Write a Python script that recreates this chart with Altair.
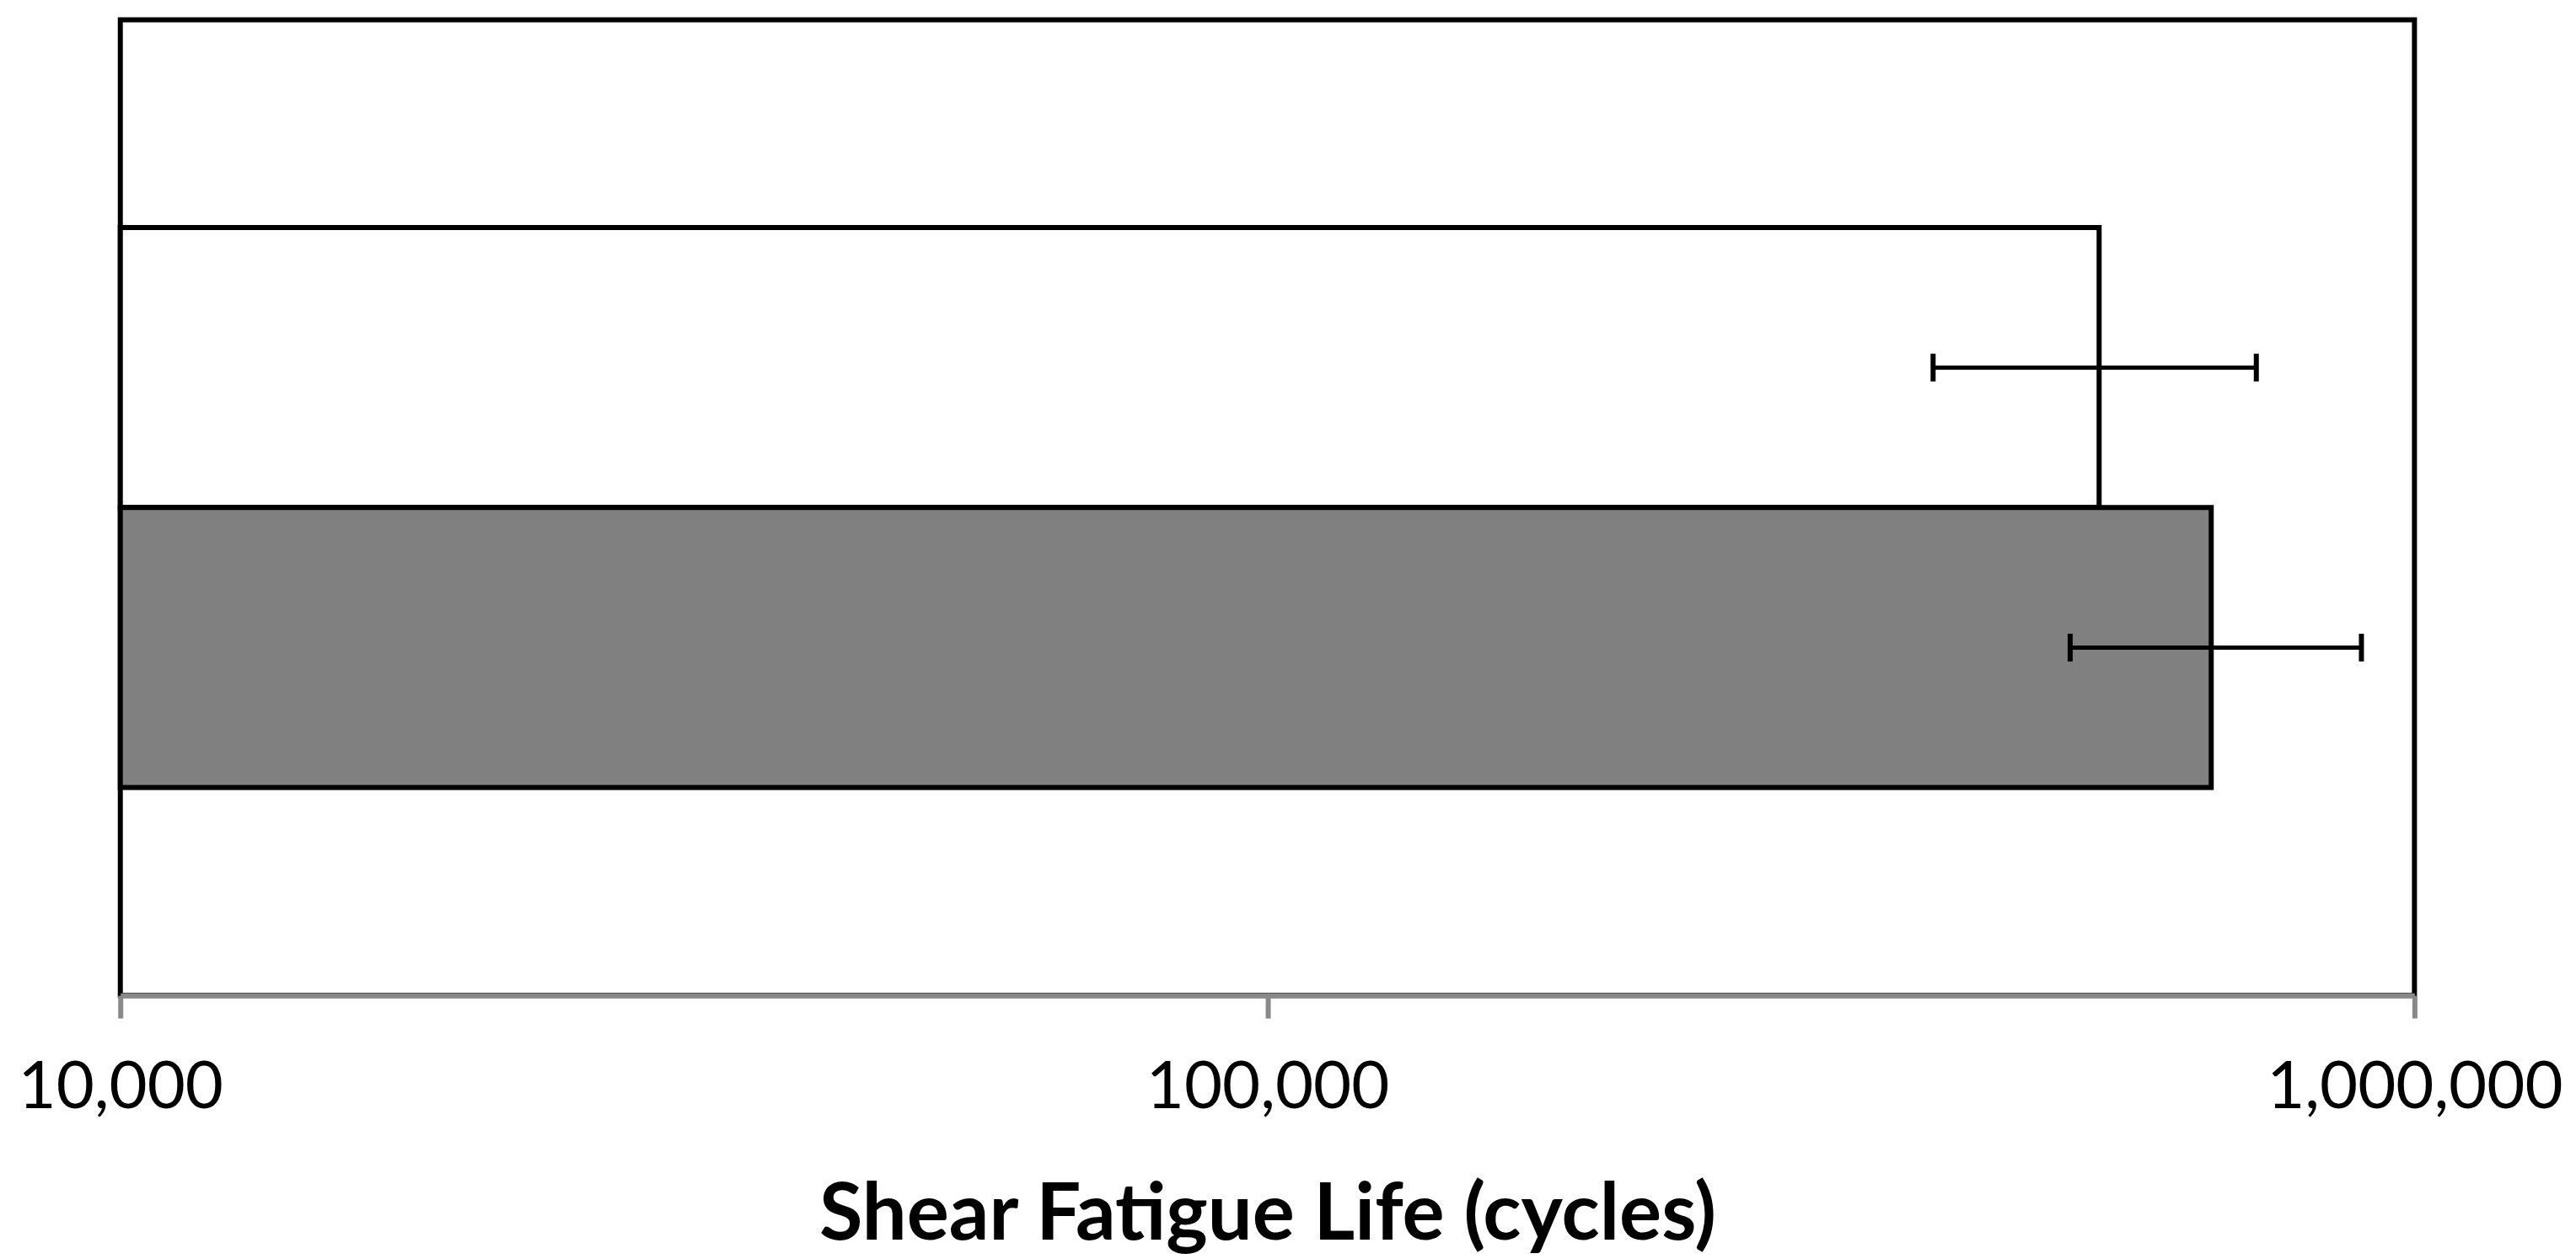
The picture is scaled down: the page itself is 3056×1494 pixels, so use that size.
import altair as alt
import pandas as pd

# Data
series = ["Series A", "Series B"]
fatigue_life = [531000, 665000]
err_low = [380500, 501000]
err_high = [728000, 899000]
fills = ["#FFFFFF", "#808080"]
axis_min = 10000
axis_max = 1000000
tick_values = [10000, 100000, 1000000]

df = pd.DataFrame({
    "series": series,
    "life": fatigue_life,
    "lo": err_low,
    "hi": err_high,
    "fill": fills,
    "base": [axis_min] * len(series),
})

x_scale = alt.Scale(type="log", domain=[axis_min, axis_max], nice=False)
y_scale = alt.Scale(domain=series, paddingInner=0, paddingOuter=0.742)

x_axis = alt.Axis(
    values=tick_values,
    format=",",
    title="Shear Fatigue Life (cycles)",
    grid=False,
    domainColor="#898989",
    domainWidth=6,
    tickColor="#898989",
    tickWidth=6,
    tickSize=27,
    labelFont="Lato",
    labelFontSize=78,
    labelColor="black",
    labelPadding=45,
    labelOverlap=False,
    labelFlush=False,
    labelLimit=0,
    titleFont="Lato",
    titleFontSize=94,
    titleFontWeight="bold",
    titleColor="black",
    titlePadding=66,
)

base = alt.Chart(df)

bars = base.mark_bar(stroke="black", strokeWidth=6, opacity=1).encode(
    x=alt.X("base:Q", scale=x_scale, axis=x_axis),
    x2="life:Q",
    y=alt.Y("series:N", scale=y_scale, axis=None),
    fill=alt.Fill("fill:N", scale=None),
)

err_line = base.mark_rule(color="black", strokeWidth=5, opacity=1).encode(
    x=alt.X("lo:Q", scale=x_scale),
    x2="hi:Q",
    y=alt.Y("series:N", scale=y_scale),
)

cap_lo = base.mark_tick(color="black", thickness=6, size=33, opacity=1).encode(
    x=alt.X("lo:Q", scale=x_scale),
    y=alt.Y("series:N", scale=y_scale),
)
cap_hi = base.mark_tick(color="black", thickness=6, size=33, opacity=1).encode(
    x=alt.X("hi:Q", scale=x_scale),
    y=alt.Y("series:N", scale=y_scale),
)

chart = (
    alt.layer(bars, err_line, cap_lo, cap_hi)
    .properties(
        width=2727,
        height=1160,
        autosize=alt.AutoSizeParams(type="none"),
        padding={"left": 135, "top": 14, "right": 184, "bottom": 312},
        background="white",
    )
    .configure_view(stroke="black", strokeWidth=6)
)

chart.save("out.html", embed_options={"renderer": "svg", "actions": False})
